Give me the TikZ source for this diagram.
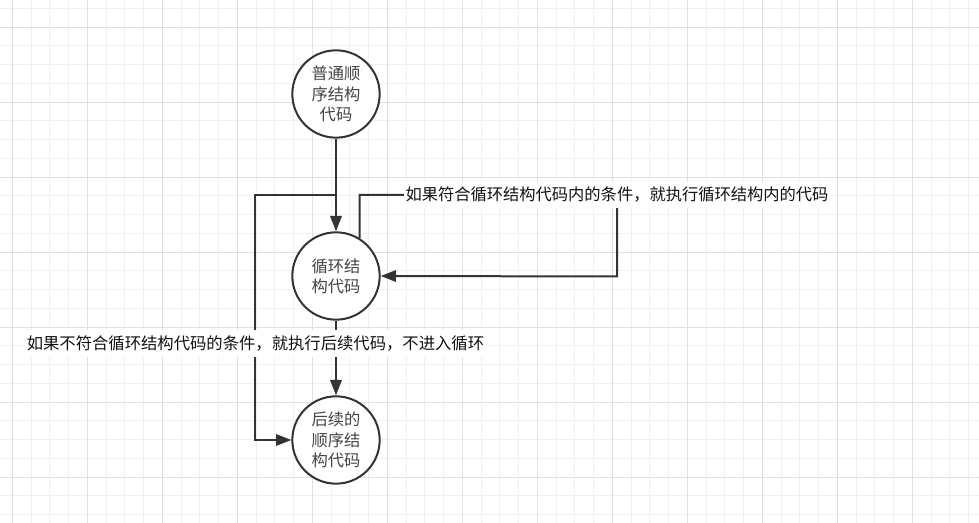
\documentclass[tikz,border=0pt]{standalone}
\usepackage{fontspec}
\newfontfamily\cjk{Noto Sans CJK SC}
\usetikzlibrary{arrows.meta}
\definecolor{ln}{HTML}{333333}
\definecolor{gminor}{HTML}{F0F0F0}
\definecolor{gmajor}{HTML}{E0E0E0}
\definecolor{ctext}{HTML}{444444}
\definecolor{ltext}{HTML}{111111}
\begin{document}
\begin{tikzpicture}[x=0.75pt,y=-0.75pt,
  stnode/.style={circle,draw=ln,line width=1.5pt,fill=white,minimum size=65.5pt,inner sep=0pt,
    text=ctext,align=center,font=\cjk\fontsize{12.2}{15.2}\selectfont},
  lbl/.style={fill=white,text=ltext,inner xsep=1.5pt,inner ysep=4pt},
  arr/.style={draw=ln,line width=1.5pt,-{Triangle[length=11.5pt,width=8.5pt]}},
  minorline/.style={draw=gminor,line width=0.75pt},
  majorline/.style={draw=gmajor,line width=0.75pt}
]
\useasboundingbox (0,0) rectangle (979,523);
\fill[white] (0,0) rectangle (979,523);
% grid
\foreach \xx in {12.3,31.05,...,979} \draw[minorline] (\xx,0) -- (\xx,523);
\foreach \yy in {8.3,27.05,...,523} \draw[minorline] (0,\yy) -- (979,\yy);
\foreach \xx in {12.3,87.3,...,979} \draw[majorline] (\xx,0) -- (\xx,523);
\foreach \yy in {27.05,102.05,...,523} \draw[majorline] (0,\yy) -- (979,\yy);

% nodes
\node[stnode] (c1) at (336,94) {普通顺\\序结构\\代码};
\node[stnode] (c2) at (336,276) {循环结\\构代码};
\node[stnode] (c3) at (336,440) {后续的\\顺序结\\构代码};

% helper coordinates
\coordinate (j) at (336,195);
\coordinate (l) at (255,195);
\coordinate (r1) at (617,195);
\coordinate (r2) at (617,276.5);

% connectors
\draw[arr] (c1) -- (c2);
\draw[arr] (c2) -- (c3);
\draw[arr] (j) -- (l) |- (c3.west);
\draw[arr] (c2.58) |- (r1) -- (r2) -- (c2.east);

% labels
\node[lbl,font=\cjk\fontsize{12.2}{14}\selectfont] (lab1) at (617,195) {如果符合循环结构代码内的条件，就执行循环结构内的代码};
\node[lbl,font=\cjk\fontsize{12.25}{14}\selectfont] (lab2) at (255.5,343.5) {如果不符合循环结构代码的条件，就执行后续代码，不进入循环};
\end{tikzpicture}
\end{document}
